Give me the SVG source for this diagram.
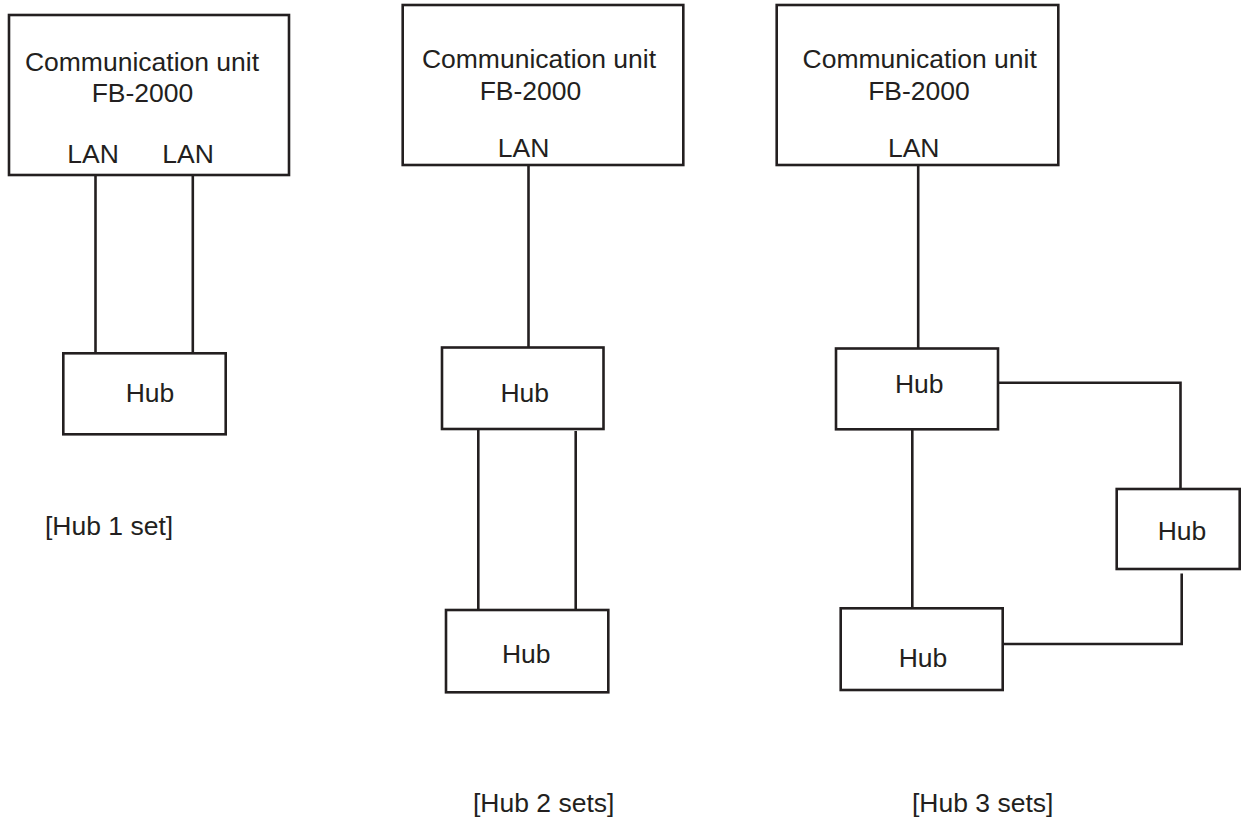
<svg xmlns="http://www.w3.org/2000/svg" width="1241" height="821" viewBox="0 0 1241 821">
<style>
.box{fill:#fff;stroke:#231f20;stroke-width:2.6}
.ln{fill:none;stroke:#231f20;stroke-width:2.6}
text{font-family:"Liberation Sans",Arial,sans-serif;font-size:26.5px;fill:#231f20}
.m{text-anchor:middle}
</style>
<rect width="1241" height="821" fill="#fff"/>
<g id="connectors">
<line class="ln" x1="95.5" y1="175" x2="95.5" y2="353"/>
<line class="ln" x1="192.8" y1="175" x2="192.8" y2="353"/>
<line class="ln" x1="528.5" y1="165" x2="528.5" y2="347.5"/>
<line class="ln" x1="478.3" y1="429" x2="478.3" y2="610"/>
<line class="ln" x1="575.7" y1="431" x2="575.7" y2="610"/>
<line class="ln" x1="918.2" y1="165" x2="918.2" y2="348.5"/>
<line class="ln" x1="912.3" y1="429.3" x2="912.3" y2="608.3"/>
<polyline class="ln" points="998,382.7 1180.5,382.7 1180.5,491"/>
<polyline class="ln" points="1181.7,573.5 1181.7,644 1002.7,644"/>
</g>
<g id="cu1">
<rect class="box" x="9" y="15" width="280" height="160"/>
<text class="m" x="142" y="71">Communication unit</text>
<text class="m" x="142.5" y="102">FB-2000</text>
<text class="m" x="93" y="163">LAN</text>
<text class="m" x="188" y="163">LAN</text>
</g>
<g id="hub1">
<rect class="box" x="63.3" y="353.3" width="162.4" height="81"/>
<text class="m" x="150" y="402">Hub</text>
</g>
<text id="label1" x="45" y="535">[Hub 1 set]</text>
<g id="cu2">
<rect class="box" x="402.7" y="5" width="280.6" height="160"/>
<text class="m" x="539" y="68">Communication unit</text>
<text class="m" x="530.5" y="100">FB-2000</text>
<text class="m" x="523.5" y="157">LAN</text>
</g>
<g id="hub2a">
<rect class="box" x="442" y="347.5" width="161.5" height="81.5"/>
<text class="m" x="524.7" y="402">Hub</text>
</g>
<g id="hub2b">
<rect class="box" x="446" y="610" width="162.3" height="82.3"/>
<text class="m" x="526.3" y="663">Hub</text>
</g>
<text id="label2" x="473" y="812">[Hub 2 sets]</text>
<g id="cu3">
<rect class="box" x="776.7" y="5" width="281.6" height="160"/>
<text class="m" x="919.7" y="68">Communication unit</text>
<text class="m" x="919" y="100">FB-2000</text>
<text class="m" x="913.7" y="157">LAN</text>
</g>
<g id="hub3a">
<rect class="box" x="836" y="348.5" width="162" height="80.8"/>
<text class="m" x="919.3" y="393">Hub</text>
</g>
<g id="hub3b">
<rect class="box" x="1116.7" y="489" width="123" height="80"/>
<text class="m" x="1182" y="540">Hub</text>
</g>
<g id="hub3c">
<rect class="box" x="840.7" y="608.3" width="162" height="81.7"/>
<text class="m" x="923" y="667">Hub</text>
</g>
<text id="label3" x="912" y="812">[Hub 3 sets]</text>
</svg>
